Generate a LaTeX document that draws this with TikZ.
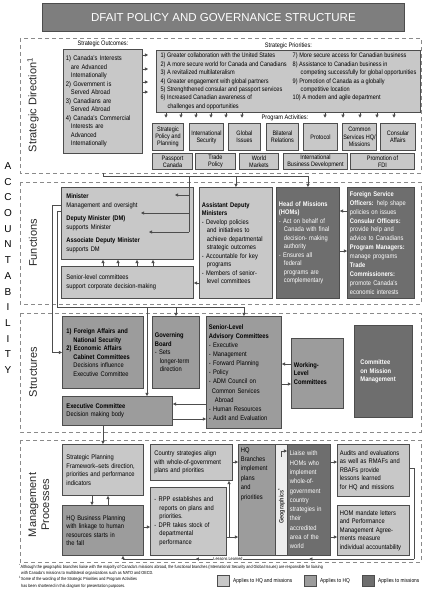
\documentclass[tikz,border=0pt]{standalone}
\usepackage{fontspec}
\setmainfont{Liberation Sans}[FakeStretch=0.86]
\newfontfamily\widefont{Liberation Sans}
\usetikzlibrary{arrows.meta,positioning,decorations.markings}
\definecolor{EdgeGray}{HTML}{4D4D4D}
\definecolor{HQMGray}{HTML}{C8C8C8}
\definecolor{HQGray}{HTML}{9C9C9C}
\definecolor{MisGray}{HTML}{6E6E6E}
\definecolor{FrameGray}{HTML}{8A8A8A}
\definecolor{TitleGray}{HTML}{7E7E7E}
\newcommand{\boxfont}{\fontsize{6.7}{8.5}\selectfont}
\newcommand{\prifont}{\fontsize{6.5}{8.4}\selectfont}
\newcommand{\pafont}{\fontsize{6.4}{7.2}\selectfont}
\newcommand{\bxind}{\hspace*{5pt}}

\begin{document}
\begin{tikzpicture}[x=1pt,y=-1pt,node distance=1pt,
  box/.style={draw=EdgeGray,line width=0.9pt,inner sep=2pt,anchor=north west,align=left,font=\boxfont},
  hqmbox/.style={box,fill=HQMGray},
  hqbox/.style={box,fill=HQGray},
  misbox/.style={box,fill=MisGray,text=white},
  pabox/.style={hqmbox,inner sep=0.8pt,align=center,font=\pafont},
  secframe/.style={draw=FrameGray,line width=0.7pt,dash pattern=on 4pt off 3pt},
  seclabel/.style={rotate=90,font=\widefont\fontsize{11}{13}\selectfont,text=black!85,align=center},
  lbltext/.style={font=\prifont,inner sep=1pt},
  arr/.style={draw=EdgeGray,line width=0.6pt,-{Triangle[length=3.2pt,width=3.2pt]}},
  ln/.style={draw=EdgeGray,line width=0.6pt}]

\useasboundingbox (0,0) rectangle (430,602);

% title
\node[box,fill=TitleGray,text=white,minimum width=362pt,minimum height=28pt,align=center,font=\widefont\fontsize{11.5}{13}\selectfont] (title) at (42,3) {DFAIT POLICY AND GOVERNANCE STRUCTURE};

% dashed section frames
\draw[secframe] (20,38) rectangle (421,173);
\draw[secframe] (20,182) rectangle (421,304);
\draw[secframe] (20,313) rectangle (421,432);
\draw[secframe] (20,440) rectangle (421,562);

% accountability down the left side
\foreach \ch [count=\i from 0] in {A,C,C,O,U,N,T,A,B,I,L,I,T,Y}
  \node[font=\widefont\fontsize{10}{12}\selectfont] (acc\i) at (8,{166+15.7*\i}) {\ch};

\node[seclabel] (sdlbl) at (33,105) {Strategic Direction\textsuperscript{1}};
\node[seclabel] (fnlbl) at (33,243) {Functions};
\node[seclabel] (stlbl) at (33,372) {Structures};
\node[seclabel] (mplbl) at (39,505) {Management\\Processes};

% strategic direction
\node[hqmbox,minimum width=79pt,minimum height=104pt,text width=74pt] (outc) at (63,49) {1) Canada's Interests\\\bxind are Advanced\\\bxind Internationally\\2) Government is\\\bxind Served Abroad\\3) Canadians are\\\bxind Served Abroad\\4) Canada's Commercial\\\bxind Interests are\\\bxind Advanced\\\bxind Internationally};
\node[lbltext,above=0.5pt of outc] (outlbl) {Strategic Outcomes:};

\node[hqmbox,minimum width=264pt,minimum height=60pt,inner sep=1.5pt,font=\prifont] (prio) at (156,50) {\begin{tabular}{@{}l@{\hspace{6pt}}l@{}}
1) Greater collaboration with the United States & 7) More secure access for Canadian business\\
2) A more secure world for Canada and Canadians & 8) Assistance to Canadian business in\\
3) A revitalized multilateralism & \hspace*{8pt}competing successfully for global opportunities\\
4) Greater engagement with global partners & 9) Promotion of Canada as a globally\\
5) Strenghthened consular and passport services & \hspace*{8pt}competitive location\\
6) Increased Canadian awareness of & 10) A modern and agile department\\
\hspace*{7pt}challenges and opportunities & \end{tabular}};
\node[lbltext,above=0pt of prio] (prilbl) {Strategic Priorities:};

\foreach \y [count=\k] in {55,69,82,92} {
  \coordinate (oa\k) at (outc.east |- 0,\y);
  \draw[arr,shorten >=8pt] (oa\k) -- (oa\k -| prio.west);
}

\node[lbltext] (palbl) at (285,118) {Program Activities:};
\foreach \x in {166,181,196,211,226,242,325,343,360,377,394}
  \draw[arr] (prio.south -| \x,0) -- ++(0,5);

\node[pabox,minimum width=31pt,minimum height=27pt] (pa1) at (152,123) {Strategic\\Policy and\\Planning};
\node[pabox,minimum width=34pt,minimum height=27pt] (pa2) at (189,123) {International\\Security};
\node[pabox,minimum width=32pt,minimum height=27pt] (pa3) at (228,123) {Global\\Issues};
\node[pabox,minimum width=32pt,minimum height=27pt] (pa4) at (266,123) {Bilateral\\Relations};
\node[pabox,minimum width=34pt,minimum height=27pt] (pa5) at (303,123) {Protocol};
\node[pabox,minimum width=33pt,minimum height=27pt] (pa6) at (342,123) {Common\\Services HQ/\\Missions};
\node[pabox,minimum width=35pt,minimum height=27pt] (pa7) at (380,123) {Consular\\Affairs};

\node[pabox,minimum width=40pt,minimum height=16pt] (pb1) at (152,153) {Passport\\Canada};
\node[pabox,minimum width=40pt,minimum height=16pt] (pb2) at (195,153) {Trade\\Policy};
\node[pabox,minimum width=39pt,minimum height=16pt] (pb3) at (239,153) {World\\Markets};
\node[pabox,minimum width=64pt,minimum height=16pt] (pb4) at (283,153) {International\\Business Development};
\node[pabox,minimum width=64pt,minimum height=16pt] (pb5) at (350,153) {Promotion of\\FDI};

% functions
\node[hqmbox,minimum width=132pt,minimum height=72pt,inner xsep=5pt,text width=122pt] (minister) at (61,187) {\textbf{Minister}\\Management and oversight\\[5pt]\textbf{Deputy Minister (DM)}\\supports Minister\\[5pt]\textbf{Associate Deputy Minister}\\supports DM};
\node[hqmbox,minimum width=132pt,minimum height=32pt,inner xsep=5pt,text width=122pt] (slc) at (61,266) {Senior-level committees\\support corporate decision-making};
\node[hqmbox,minimum width=73pt,minimum height=111pt,text width=68pt] (adm) at (199,187) {\textbf{Assistant Deputy}\\\textbf{Ministers}\\- Develop policies\\\bxind and initiatives to\\\bxind achieve departmental\\\bxind strategic outcomes\\- Accountable for key\\\bxind programs\\- Members of senior-\\\bxind level committees};
\node[misbox,minimum width=63pt,minimum height=111pt,text width=58pt] (hom) at (276,187) {\textbf{Head of Missions}\\\textbf{(HOMs)}\\- Act on behalf of\\\bxind Canada with final\\\bxind decision- making\\\bxind authority\\- Ensures all\\\bxind federal\\\bxind programs are\\\bxind complementary};
\node[misbox,minimum width=67pt,minimum height=111pt,text width=62pt,font=\fontsize{6.7}{8.9}\selectfont] (fso) at (347,187) {\textbf{Foreign Service}\\\textbf{Officers:} help shape\\policies on issues\\\textbf{Consular Officers:}\\provide help and\\advice to Canadians\\\textbf{Program Managers:}\\manage programs\\\textbf{Trade}\\\textbf{Commissioners:}\\promote Canada's\\economic interests};

% strategic direction feeds functions
\coordinate (sdout) at (103,173);
\coordinate (busL) at (103,176);
\coordinate (busR) at (hom.north |- busL);
\draw[ln] (sdout) -- (busL) -- (busR);
\draw[arr] (busR) -- (hom.north);
\draw[arr] (adm.north |- busL) -- (adm.north);
\coordinate (mtop) at (189,176);
\coordinate (mbot) at (189,232);
\draw[ln] (mtop) -- (mbot);
\draw[arr] (mtop |- 0,195) -- ++(-14,0);
\draw[arr] (mtop |- 0,213) -- ++(-48,0);
\draw[arr] (mbot) -- ++(-40,0);

\foreach \x in {103,118,137,153}
  \draw[arr] (slc.north -| \x,0) -- (minister.south -| \x,0);
\draw[arr] (adm.west |- 0,283) -- (slc.east |- 0,283);
\draw[arr] (fso.west |- 0,211) -- (hom.east |- 0,211);
\draw[arr] (hom.east |- 0,251) -- (fso.west |- 0,251);

% structures
\node[hqbox,minimum width=81pt,minimum height=72pt,inner xsep=4pt,text width=73pt] (cab) at (62,316) {\textbf{1) Foreign Affairs and}\\\hspace*{7pt}\textbf{National Security}\\\textbf{2) Economic Affairs}\\\hspace*{7pt}\textbf{Cabinet Committees}\\\hspace*{7pt}Decisions influence\\\hspace*{7pt}Executive Committee};
\node[hqbox,minimum width=47pt,minimum height=72pt,text width=42pt] (gov) at (152,316) {\textbf{Governing}\\\textbf{Board}\\- Sets\\\bxind longer-term\\\bxind direction};
\node[hqbox,minimum width=75pt,minimum height=112pt,text width=70pt,font=\fontsize{6.7}{9.1}\selectfont] (slac) at (206,316) {\textbf{Senior-Level}\\\textbf{Advisory Committees}\\- Executive\\- Management\\- Forward Planning\\- Policy\\- ADM Council on\\\hspace*{3pt}Common Services\\\hspace*{6pt}Abroad\\- Human Resources\\- Audit and Evaluation};
\node[hqbox,minimum width=52pt,minimum height=70pt,text width=47pt] (wlc) at (291,338) {\textbf{Working-}\\\textbf{Level}\\\textbf{Committees}};
\node[misbox,minimum width=58pt,minimum height=92pt,inner xsep=6pt,text width=46pt] (cmm) at (354,325) {\textbf{Committee}\\\textbf{on Mission}\\\textbf{Management}};
\node[hqbox,minimum width=110pt,minimum height=29pt,inner xsep=4pt,text width=102pt] (exec) at (62,396) {\textbf{Executive Committee}\\Decision making body};

% functions feed structures
\draw[arr] (minister.west |- 0,205) -- ++(-9,0) |- (cab.west);
\coordinate (fbus) at (57,307);
\draw[arr] (minister.west |- 0,211) -| (fbus) -| (slac.north);
\draw[arr] (gov.north |- fbus) -- (gov.north);
\coordinate (xdrop) at (147,307);
\draw[arr] (xdrop) -- (xdrop |- exec.north);

\draw[arr] (wlc.west |- 0,364) -- (slac.east |- 0,364);
\draw[arr] (slac.east |- 0,384) -- (wlc.west |- 0,384);
\draw[arr] (slac.west |- 0,404) -- (exec.east |- 0,404);
\draw[arr] (exec.east |- 0,419) -- (slac.west |- 0,419);

% management processes
\node[hqmbox,minimum width=81pt,minimum height=51pt,inner xsep=4pt,text width=73pt] (spf) at (62,444) {Strategic Planning\\Framework--sets direction,\\priorities and performance\\indicators};
\node[hqbox,minimum width=81pt,minimum height=50pt,inner xsep=4pt,text width=73pt] (hqbp) at (62,505) {HQ Business Planning\\with linkage to human\\resources starts in\\the fall};
\node[hqmbox,minimum width=82pt,minimum height=36pt,inner xsep=4pt,text width=74pt] (ctry) at (150,444) {Country strategies align\\with whole-of-government\\plans and priorities};
\node[hqmbox,minimum width=76pt,minimum height=68pt,inner xsep=4pt,text width=68pt] (rpp) at (150,487) {- RPP establishes and\\\bxind reports on plans and\\\bxind priorities.\\- DPR takes stock of\\\bxind departmental\\\bxind performance};
\node[hqbox,minimum width=37pt,minimum height=111pt] (hqbr) at (238,444) {\parbox[c][105pt][t]{32pt}{\raggedright\fontsize{6.7}{9.4}\selectfont HQ\\Branches\\implement\\plans\\and\\priorities}};
\node[box,fill=black!7,minimum width=12pt,minimum height=111pt,inner sep=0pt] (geo) at (275,444) {};
\node[rotate=90,font=\fontsize{6.4}{7}\selectfont\bfseries,text=black!80,inner sep=0pt] (geotxt) at (281.5,506) {Geographics\textsuperscript{*}};
\node[misbox,minimum width=43pt,minimum height=111pt,text width=38pt,font=\fontsize{6.7}{9.3}\selectfont] (liaise) at (287,444) {Liaise with\\HOMs who\\implement\\whole-of-\\government\\country\\strategies in\\their\\accredited\\area of the\\world};
\node[hqmbox,minimum width=72pt,minimum height=52pt,text width=67pt] (aud) at (337,444) {Audits and evaluations\\as well as RMAFs and\\RBAFs provide\\lessons learned\\for HQ and missions};
\node[hqmbox,minimum width=72pt,minimum height=50pt,text width=67pt] (homm) at (337,505) {HOM mandate letters\\and Performance\\Management Agree-\\ments measure\\individual accountability};

\draw[arr] (spf.south -| 92,0) -- (hqbp.north -| 92,0);
\draw[arr] (hqbp.north -| 108,0) -- (spf.south -| 108,0);
\draw[arr] (exec.south -| spf.north) -- (spf.north);
\draw[arr] (hqbp.east |- 0,527) -- (rpp.west |- 0,527);
\draw[arr] (ctry.east |- 0,462) -- (hqbr.west |- 0,462);
\coordinate (rppout) at (rpp.east |- 0,537);
\draw[arr] (rppout) -- (hqbr.west |- rppout);
\draw[arr] (rppout -| 229,0) -- (ctry.south -| 229,0);
\draw[arr] (geo.center |- 0,457) |- (liaise.west |- 0,451);
\draw[arr] (liaise.east |- 0,462) -- (aud.west |- 0,462);
\draw[arr] (liaise.east |- 0,537) -- (homm.west |- 0,537);

% lessons learned loop
\coordinate (llR) at (414,559);
\coordinate (llL) at (123,559);
\draw[ln] (aud.east |- 0,468) -| (llR);
\draw[ln,color=EdgeGray,decoration={markings,
    mark=at position 0.36 with {\arrow{Triangle[length=3.2pt,width=3.2pt]}},
    mark=at position 0.75 with {\arrow{Triangle[length=3.2pt,width=3.2pt]}}},
  postaction={decorate}] (llR) -- (llL);
\draw[arr] (llL) -- (llL |- hqbp.south);
\node[fill=white,inner sep=0.6pt,font=\fontsize{4.4}{5}\selectfont] (lltxt) at (228,559) {Lessons Learned};

% notes and legend
\node[anchor=north west,align=left,inner sep=0pt,font=\fontsize{4.4}{6.3}\selectfont] (notes) at (19,564) {\textsuperscript{*}Although the geographic branches liaise with the majority of Canada's missions abroad, the functional branches (International Security and Global Issues) are responsible for liaising\\\hspace*{2pt}with Canada's missions to multilateral organizations such as NATO and OECD.\\\textsuperscript{1}Some of the wording of the Strategic Priorities and Program Activities\\\hspace*{2pt}has been shortened in this diagram for presentation purposes.};

\node[hqmbox,minimum width=12pt,minimum height=11pt,inner sep=0pt] (legA) at (217,575) {};
\node[right=3pt of legA,inner sep=0pt,font=\fontsize{5.6}{6.5}\selectfont] (legAt) {Applies to HQ and missions};
\node[hqbox,minimum width=12pt,minimum height=11pt,inner sep=0pt] (legB) at (304,575) {};
\node[right=3pt of legB,inner sep=0pt,font=\fontsize{5.6}{6.5}\selectfont] (legBt) {Applies to HQ};
\node[misbox,minimum width=12pt,minimum height=11pt,inner sep=0pt] (legC) at (362,575) {};
\node[right=3pt of legC,inner sep=0pt,font=\fontsize{5.6}{6.5}\selectfont] (legCt) {Applies to missions};
\end{tikzpicture}
\end{document}
